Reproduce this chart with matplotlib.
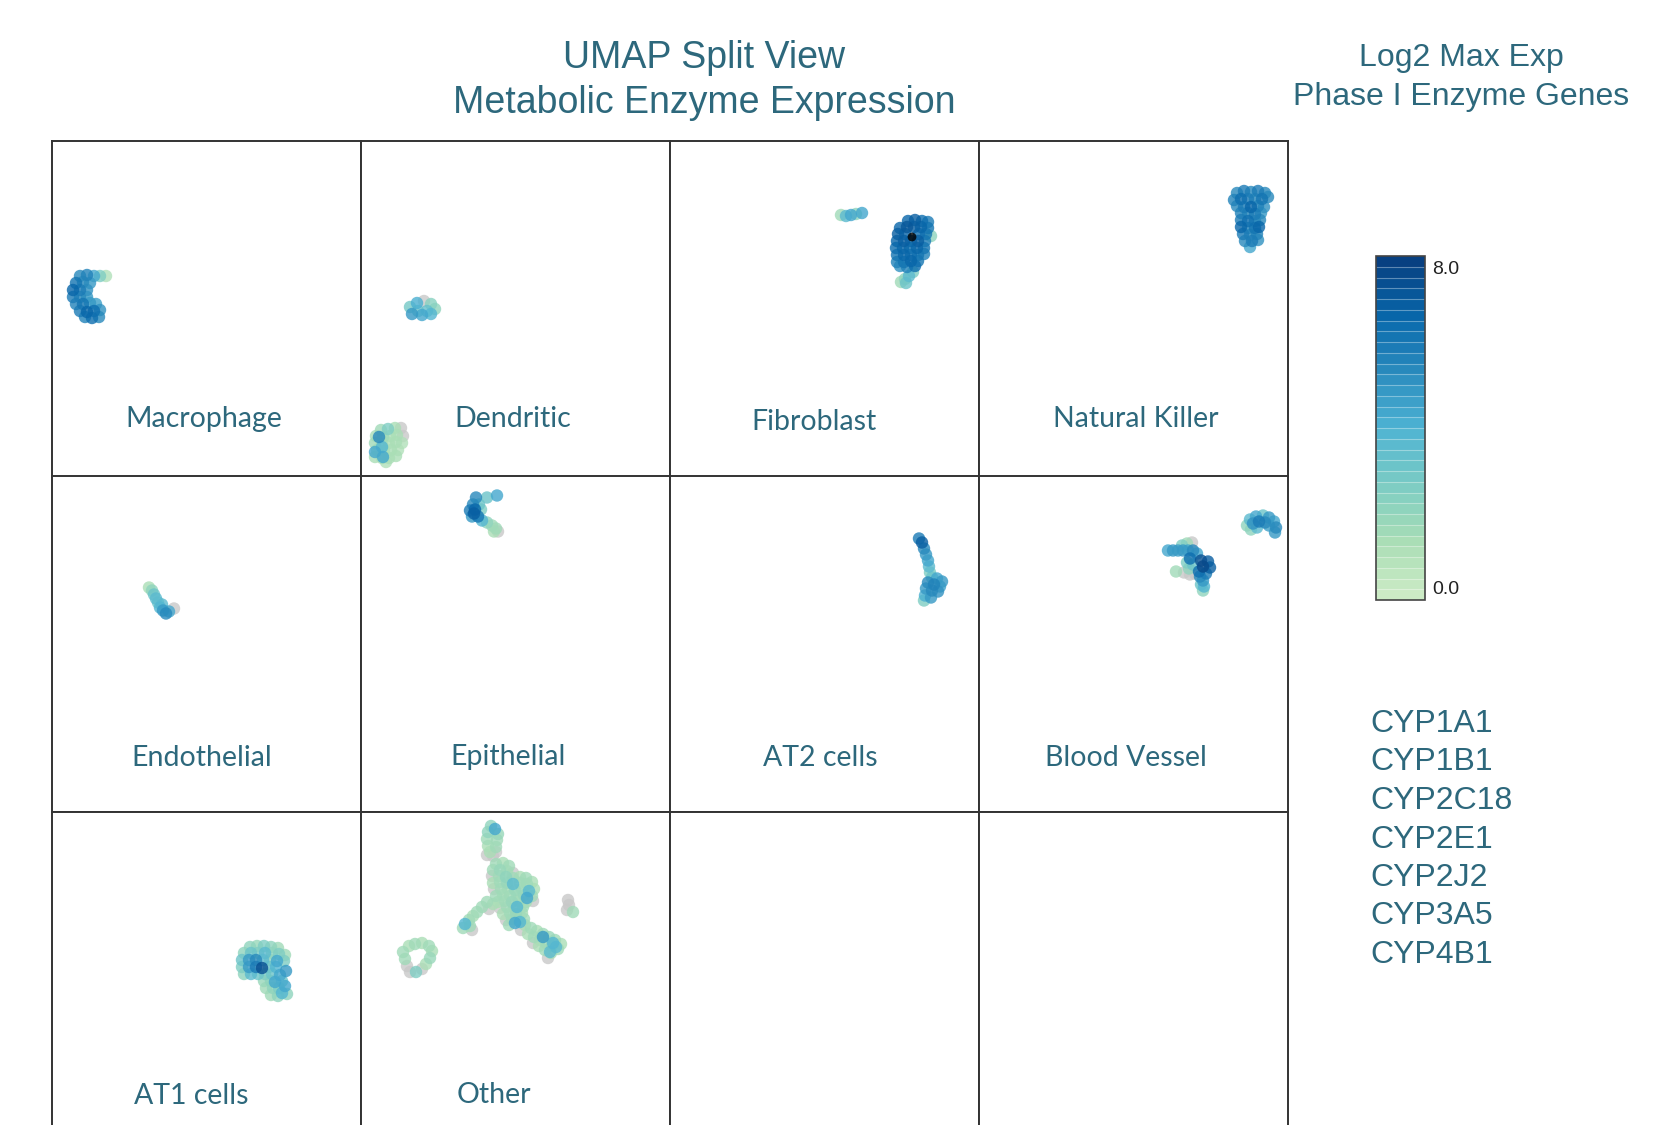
import numpy as np
import matplotlib
matplotlib.use("Agg")
import matplotlib.pyplot as plt
from matplotlib.colors import ListedColormap, Normalize
from matplotlib.cm import ScalarMappable

nan = np.nan

# cells per type: (umap_1, umap_2, log2 max expression); nan = not detected
macrophage = [(28,135,5.5),(35,134,5.8),(42,135,4.5),(48,135,2.5),(54,135,1.0),
              (24,142,6.2),(31,141,5.5),(38,142,5.0),
              (21,149,6.8),(28,149,6.0),(35,149,5.2),
              (21,156,6.0),(28,156,5.5),(35,156,5.0),
              (24,163,5.8),(31,163,6.2),(38,162,5.0),(44,163,4.8),
              (28,170,6.0),(35,171,6.8),(42,170,6.5),(48,169,5.2),
              (33,176,5.8),(40,177,6.6),(47,176,5.5)]

dendritic = [(49,166,2.8),(56,162,4.2),(63,160,nan),(70,163,2.2),(51,173,5.0),
             (57,170,3.0),(61,174,4.5),(66,170,3.2),(70,173,4.0),(74,168,2.0),
             (20,289,1.5),(27,288,2.5),(34,287,1.3),(40,287,nan),(15,295,1.3),
             (22,296,1.5),(29,295,1.3),(36,294,1.2),(42,295,nan),(14,302,1.5),
             (21,303,1.3),(28,302,1.2),(35,301,1.2),(41,302,1.0),(16,309,1.3),
             (23,310,1.2),(30,309,1.3),(37,309,1.0),(14,316,1.2),(21,317,1.3),
             (28,317,1.1),(35,315,1.2),(25,321,1.0),
             (18,296,5.5),(14,311,4.5),(21,306,4.0),(22,316,4.5)]

fibroblast = [(171,74,1.5),(176,75,3.5),(181,74,4.5),(186,73,2.0),(192,72,4.5),
              (238,80,6.8),(245,79,7.0),(252,80,6.5),(258,81,6.0),
              (230,87,6.8),(237,86,7.4),(244,86,7.0),(251,86,6.8),(258,87,6.2),
              (228,93,7.0),(235,93,6.8),(249,93,6.5),(256,93,6.2),(261,95,2.0),
              (227,100,6.8),(234,100,7.2),(241,100,6.8),(248,100,7.0),(255,100,6.0),
              (226,107,6.5),(233,107,6.8),(240,107,6.3),(247,107,6.8),(254,107,6.2),
              (227,114,6.2),(234,114,6.8),(241,114,6.5),(248,114,6.2),(254,113,5.8),
              (227,121,5.8),(234,121,6.2),(241,120,6.8),(248,120,6.2),
              (230,125,5.2),(237,126,5.8),(245,125,6.5),
              (242,96,8.6),
              (243,131,2.5),(239,135,3.5),(235,138,2.0),(231,141,1.5),(236,142,3.0)]

natural_killer = [(258,52,5.5),(265,50,6.0),(272,51,5.5),(279,50,6.0),(286,52,5.5),
                  (255,59,5.8),(262,58,6.5),(269,58,6.0),(276,58,5.5),(283,58,6.2),(289,56,5.5),
                  (258,65,5.5),(265,66,6.0),(272,66,6.8),(279,65,5.8),(285,66,5.2),
                  (262,72,5.8),(269,72,5.5),(276,73,6.0),(282,72,5.0),
                  (262,79,6.0),(269,80,6.5),(276,80,5.5),(281,79,5.5),
                  (262,86,6.8),(269,87,5.8),(276,87,6.2),(280,86,6.8),
                  (264,93,6.0),(271,94,5.5),(278,93,5.8),
                  (266,100,5.5),(273,100,6.0),(279,99,5.2),
                  (271,106,4.5)]

endothelial = [(97,111,1.3),(100,114,2.0),(102,118,3.0),(104,122,3.5),(106,126,3.0),
               (110,128,3.5),(108,131,4.0),(111,134,5.0),(114,137,5.5),(117,135,4.5),
               (122,132,nan)]

epithelial = [(115,21,5.5),(126,21,3.0),(136,19,4.5),(112,28,5.5),(118,28,3.0),
              (109,34,6.0),(114,33,6.8),(120,33,2.5),(111,40,5.0),(117,40,6.2),
              (113,37,7.2),(121,44,4.0),(126,46,2.0),(131,49,1.5),(135,52,1.5),
              (137,55,nan),(133,55,1.3)]

at2_cells = [(249,62,6.0),(252,66,7.0),(254,72,5.5),(256,78,5.0),(258,84,4.5),
             (259,90,3.5),(260,96,2.5),(262,101,3.0),(267,102,4.5),(272,105,5.0),
             (258,106,5.5),(264,108,5.8),(270,110,4.8),(256,112,5.0),(262,114,5.5),
             (268,115,5.2),(255,119,4.2),(261,121,5.0),(254,124,2.5)]

blood_vessel = [(189,74,4.5),(194,74,5.0),(199,74,4.8),(204,74,5.0),(209,74,4.5),
                (213,66,nan),(208,67,1.5),(203,69,2.5),(214,74,5.5),(218,77,4.5),
                (211,82,6.5),(222,84,7.5),(229,85,7.2),(224,90,7.8),(231,91,7.0),
                (220,95,6.5),(227,97,6.0),(208,86,2.5),(210,92,2.0),(214,88,3.0),
                (205,96,nan),(211,98,nan),(216,97,nan),(197,95,1.5),
                (221,100,5.5),(224,104,5.0),(222,108,3.0),(225,110,4.0),(224,114,2.0),
                (268,49,2.0),(271,43,3.5),(277,40,4.5),(284,39,3.0),(290,41,5.0),
                (295,45,4.5),(297,51,5.5),(296,56,5.0),(274,47,5.2),(280,45,6.0),
                (286,46,5.5),(290,49,4.8),(278,51,3.5),(272,53,2.0)]

at1_cells = [(198,135,2.0),(205,134,1.8),(212,134,2.5),(219,135,2.0),(226,136,1.5),
             (192,141,2.0),(199,141,3.0),(206,141,2.5),(213,141,3.5),(220,141,2.0),(227,142,2.5),(233,143,1.5),
             (190,148,3.0),(197,148,5.0),(204,148,5.5),(211,148,3.5),(218,148,2.0),(225,149,4.5),(232,149,2.5),
             (190,155,2.5),(197,155,5.0),(204,155,6.0),(210,156,7.5),(217,155,3.0),(224,155,4.0),(234,159,5.0),
             (192,162,2.0),(199,162,3.5),(206,162,3.0),(213,162,2.5),(220,162,3.0),(228,163,4.5),
             (212,169,1.8),(219,169,2.0),(223,170,4.5),(230,169,3.0),
             (214,176,1.5),(221,176,2.0),(227,176,2.5),(233,174,4.5),
             (219,183,1.5),(226,184,2.0),(230,181,4.0),(235,182,2.0)]

other = [(130,14,2.0),(134,17,4.5),(127,20,2.0),(137,22,1.8),(126,27,1.5),(136,28,1.5),
         (127,34,1.3),(135,35,1.5),(129,40,1.2),(135,40,nan),(126,43,nan),(132,44,nan),
         (135,52,1.5),(142,51,1.3),(148,54,1.5),
         (132,58,1.5),(139,58,1.8),(146,59,1.3),(152,61,nan),
         (131,64,nan),(138,64,1.5),(145,65,2.0),(152,66,1.5),(159,65,1.3),(165,66,1.5),
         (132,71,1.3),(139,70,1.5),(146,71,1.8),(152,72,3.5),(159,71,1.5),(166,72,1.5),(171,70,1.3),
         (133,77,nan),(140,77,1.5),(147,77,1.3),(154,78,1.8),(161,77,1.5),(168,79,3.5),(173,77,1.2),
         (135,84,1.5),(142,83,1.3),(149,84,1.5),(156,84,1.3),(163,83,1.8),(166,86,4.5),(171,84,1.5),
         (137,90,1.3),(144,89,1.5),(151,90,1.8),(158,89,1.5),(165,90,1.3),(172,89,nan),
         (139,96,nan),(146,95,1.5),(153,96,1.3),(156,95,4.0),(162,95,1.5),
         (142,102,1.3),(149,101,1.5),(155,102,1.8),(161,101,1.3),
         (145,108,nan),(151,107,1.5),(157,108,1.3),(163,107,1.5),
         (148,113,1.5),(154,111,4.5),(159,110,4.0),(164,113,1.3),
         (170,116,1.5),(176,119,1.3),(182,122,1.5),(188,125,1.8),(194,128,1.5),(200,132,1.3),
         (167,122,1.3),(173,125,1.5),(179,128,1.3),(185,131,1.5),(191,134,1.8),(197,137,1.5),
         (172,131,nan),(178,134,1.3),(184,138,1.5),(190,141,1.3),(187,146,nan),(160,118,nan),
         (182,125,5.0),(192,131,4.0),(189,140,3.5),(195,135,3.5),
         (126,90,1.5),(132,92,1.3),(121,95,1.5),(128,97,nan),(116,100,1.5),(112,104,1.3),
         (108,108,1.5),(104,112,4.0),(109,114,1.5),(111,118,nan),(102,116,1.5),
         (207,88,nan),(208,93,nan),(206,98,nan),(212,100,1.5),
         (42,140,1.5),(48,134,1.3),(54,132,1.5),(61,131,1.3),(68,134,1.5),(71,139,1.3),
         (69,146,1.8),(65,152,1.3),(61,157,nan),(55,160,2.5),(49,160,nan),(46,154,nan),(44,147,1.5)]

cell_types = ["Macrophage", "Dendritic", "Fibroblast", "Natural Killer",
              "Endothelial", "Epithelial", "AT2 cells", "Blood Vessel",
              "AT1 cells", "Other"]
cell_points = [macrophage, dendritic, fibroblast, natural_killer,
               endothelial, epithelial, at2_cells, blood_vessel,
               at1_cells, other]
label_x = [152, 152, 144, 157, 150, 147, 150, 147, 139, 133]
label_y = [278, 278, 281, 278, 281, 281, 281, 282, 284, 283]

genes = ["CYP1A1", "CYP1B1", "CYP2C18", "CYP2E1", "CYP2J2", "CYP3A5", "CYP4B1"]

W, H = 1660, 1125
PANEL_W, PANEL_H = 309, 335.5
GRID_LEFT, GRID_TOP = 52, 141
TEAL = "#2d687c"

base = plt.get_cmap("GnBu")
cmap = ListedColormap(base(np.linspace(0.25, 1.0, 32)))
cmap.set_bad("#c8c8c8")
cmap.set_over("black")
norm = Normalize(vmin=-0.3, vmax=8.3)

fig = plt.figure(figsize=(W / 100, H / 100), dpi=100)

for i in range(12):
    r, c = divmod(i, 4)
    left = (GRID_LEFT + c * PANEL_W) / W
    bottom = 1 - (GRID_TOP + (r + 1) * PANEL_H) / H
    ax = fig.add_axes([left, bottom, PANEL_W / W, PANEL_H / H])
    ax.set_xlim(0, PANEL_W)
    ax.set_ylim(PANEL_H, 0)
    ax.set_xticks([])
    ax.set_yticks([])
    for sp in ax.spines.values():
        sp.set_color("#333333")
        sp.set_linewidth(1.4)
    if i >= len(cell_types):
        continue
    pts = np.array(cell_points[i], dtype=float)
    order = np.argsort(np.nan_to_num(pts[:, 2], nan=-1.0), kind="stable")
    pts = pts[order]
    # over-range cells (black) are drawn a bit smaller
    sizes = np.where(pts[:, 2] > norm.vmax, 40, 80)
    ax.scatter(pts[:, 0], pts[:, 1], c=pts[:, 2], cmap=cmap, norm=norm,
               s=sizes, alpha=0.8, linewidths=0, plotnonfinite=True)
    ax.text(label_x[i], label_y[i], cell_types[i], ha="center", va="center",
            fontsize=20.5, color=TEAL, family="Lato")

# titles
fig.text(704 / W, 1 - 58 / H, "UMAP Split View", ha="center", va="center",
         fontsize=27, color=TEAL, family="Liberation Sans")
fig.text(704 / W, 1 - 103 / H, "Metabolic Enzyme Expression", ha="center", va="center",
         fontsize=27, color=TEAL, family="Liberation Sans")
fig.text(1461 / W, 1 - 58 / H, "Log2 Max Exp", ha="center", va="center",
         fontsize=23, color=TEAL, family="Liberation Sans")
fig.text(1461 / W, 1 - 97 / H, "Phase I Enzyme Genes", ha="center", va="center",
         fontsize=23, color=TEAL, family="Liberation Sans")

# colour scale
cax = fig.add_axes([1376 / W, 1 - 600 / H, 49 / W, 344 / H])
cb = fig.colorbar(ScalarMappable(norm=norm, cmap=cmap), cax=cax,
                  drawedges=True, ticks=[0, 8])
cb.ax.set_yticklabels(["0.0", "8.0"], fontfamily="Liberation Sans",
                      fontsize=14, color="#222222")
cb.dividers.set_color("white")
cb.dividers.set_alpha(0.35)
cb.dividers.set_linewidth(0.8)
cb.outline.set_edgecolor("#444444")
cb.outline.set_linewidth(1.2)
cb.ax.tick_params(length=0, pad=5)

# gene list
for k, g in enumerate(genes):
    fig.text(1370 / W, 1 - (724 + k * 38.5) / H, g, ha="left", va="center",
             fontsize=23, color=TEAL, family="Liberation Sans")

fig.savefig("out.png", dpi=100)
